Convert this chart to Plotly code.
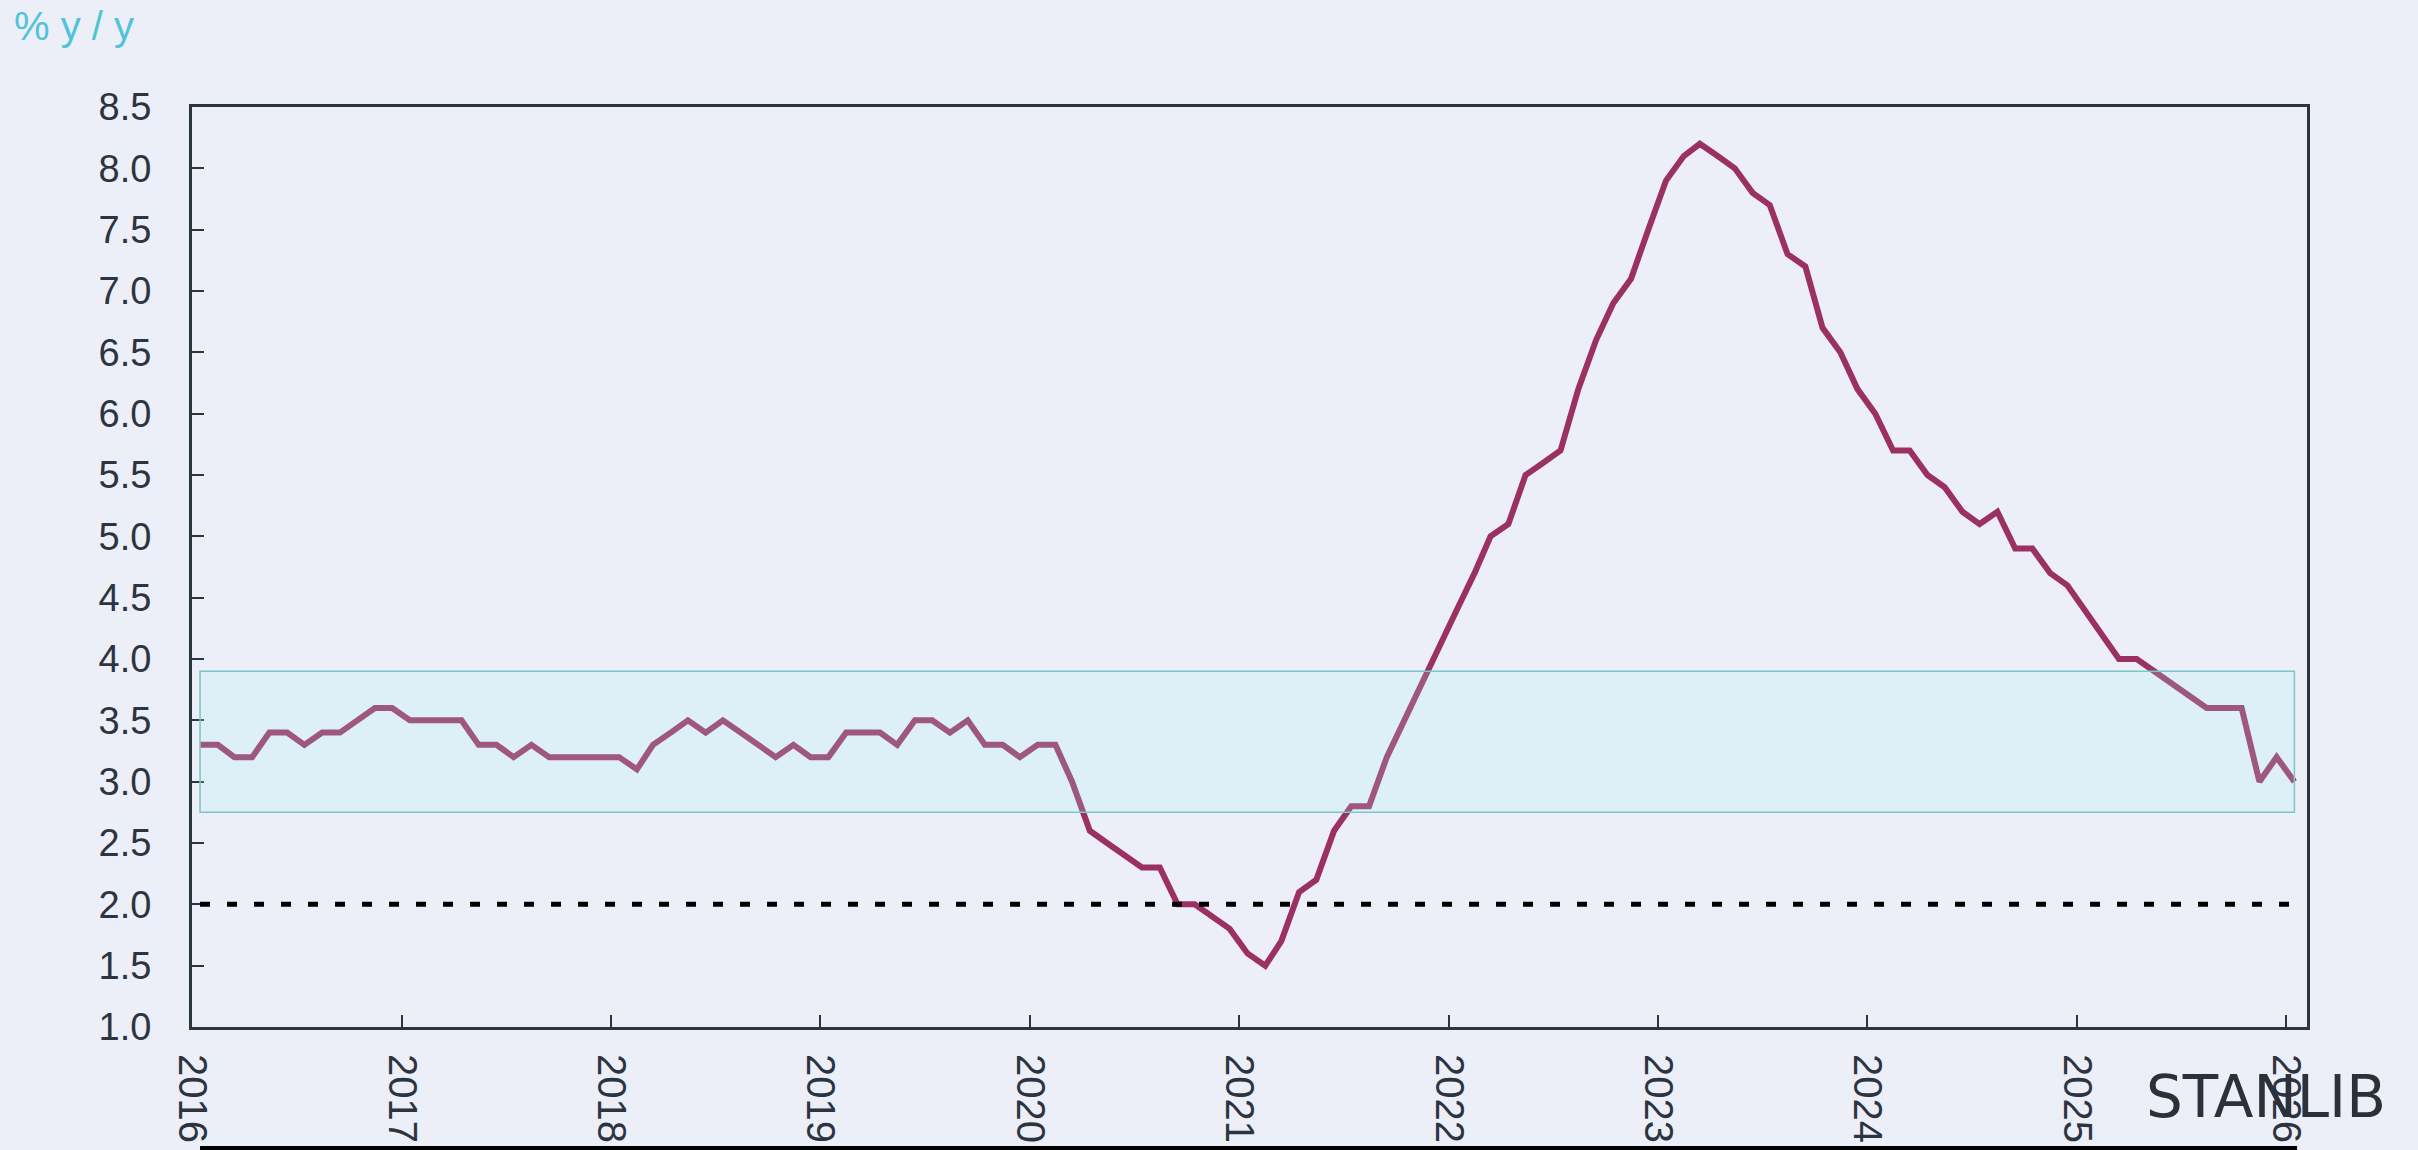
import pandas as pd
import plotly.graph_objects as go

# ---- data (monthly, % y/y), Jan 2016 .. Jan 2026 ----
values_2016 = [3.3, 3.3, 3.2, 3.2, 3.4, 3.4, 3.3, 3.4, 3.4, 3.5, 3.6, 3.6]
values_2017 = [3.5, 3.5, 3.5, 3.5, 3.3, 3.3, 3.2, 3.3, 3.2, 3.2, 3.2, 3.2]
values_2018 = [3.2, 3.1, 3.3, 3.4, 3.5, 3.4, 3.5, 3.4, 3.3, 3.2, 3.3, 3.2]
values_2019 = [3.2, 3.4, 3.4, 3.4, 3.3, 3.5, 3.5, 3.4, 3.5, 3.3, 3.3, 3.2]
values_2020 = [3.3, 3.3, 3.0, 2.6, 2.5, 2.4, 2.3, 2.3, 2.0, 2.0, 1.9, 1.8]
values_2021 = [1.6, 1.5, 1.7, 2.1, 2.2, 2.6, 2.8, 2.8, 3.2, 3.5, 3.8, 4.1]
values_2022 = [4.4, 4.7, 5.0, 5.1, 5.5, 5.6, 5.7, 6.2, 6.6, 6.9, 7.1, 7.5]
values_2023 = [7.9, 8.1, 8.2, 8.1, 8.0, 7.8, 7.7, 7.3, 7.2, 6.7, 6.5, 6.2]
values_2024 = [6.0, 5.7, 5.7, 5.5, 5.4, 5.2, 5.1, 5.2, 4.9, 4.9, 4.7, 4.6]
values_2025 = [4.4, 4.2, 4.0, 4.0, 3.9, 3.8, 3.7, 3.6, 3.6, 3.6, 3.0, 3.2]
values_2026 = [3.0]

values = (values_2016 + values_2017 + values_2018 + values_2019 + values_2020 +
          values_2021 + values_2022 + values_2023 + values_2024 + values_2025 +
          values_2026)

start_month = "2016-01-01"
dates = pd.date_range(start_month, periods=len(values), freq="MS") + pd.Timedelta(days=14)

target_level = 2.0
band_low = 2.75
band_high = 3.9

y_title = "% y / y"
brand = "STANLIB"

# ---- styles ----
BG = "#ECEFF8"
AX = "#2D3441"
LINE = "#9B3163"
FONT = "Liberation Sans, Arial, sans-serif"

fig = go.Figure()
fig.add_trace(go.Scatter(
    x=dates, y=values, mode="lines",
    line=dict(color=LINE, width=6),
    hoverinfo="skip", showlegend=False,
))

shapes = [
    dict(type="rect", xref="x", yref="y", x0=dates[0], x1=dates[-1],
         y0=band_low, y1=band_high, fillcolor="rgba(171,244,243,0.2)",
         line=dict(width=0), layer="above"),
    dict(type="rect", xref="x", yref="y", x0=dates[0], x1=dates[-1],
         y0=band_low, y1=band_high, fillcolor="rgba(0,0,0,0)",
         line=dict(color="#7CC6CA", width=1.5), layer="above"),
    dict(type="line", xref="x", yref="y", x0=dates[0], x1=dates[-1],
         y0=target_level, y1=target_level,
         line=dict(color="#000000", width=5, dash="10px,17px"), layer="above"),
    dict(type="rect", xref="paper", yref="paper", x0=0.0038, x1=0.9953,
         y0=-0.14, y1=-0.1293, fillcolor="#000000", line=dict(width=0),
         layer="above"),
]

annotations = [
    dict(text=y_title, xref="paper", yref="paper", x=-0.0850, y=1.088,
         xanchor="left", yanchor="middle", showarrow=False,
         font=dict(family=FONT, size=40, color="#4FC4D8")),
    dict(text=brand, xref="paper", yref="paper", x=0.9806, y=-0.0761,
         xanchor="center", yanchor="middle", showarrow=False,
         font=dict(family="DejaVu Sans, sans-serif", size=58, color="#2B303B")),
]

fig.update_layout(
    width=2418, height=1150,
    margin=dict(l=192, r=111, t=107, b=123, pad=0, autoexpand=False),
    paper_bgcolor=BG, plot_bgcolor=BG,
    showlegend=False,
    shapes=shapes, annotations=annotations,
    xaxis=dict(
        type="date", range=["2016-01-01", "2026-02-06"],
        tick0="2016-01-01", dtick="M12", tickformat="%Y", tickangle=90,
        ticks="inside", ticklen=12, tickwidth=2, tickcolor=AX,
        showline=True, linewidth=3, linecolor=AX, mirror=True,
        showgrid=False, zeroline=False, automargin=False,
        tickfont=dict(family=FONT, size=40, color=AX),
        ticklabelstandoff=16,
    ),
    yaxis=dict(
        range=[1.0, 8.5], tick0=1.0, dtick=0.5, tickformat=".1f",
        ticks="inside", ticklen=12, tickwidth=2, tickcolor=AX,
        showline=True, linewidth=3, linecolor=AX, mirror=True,
        showgrid=False, zeroline=False, automargin=False,
        tickfont=dict(family=FONT, size=38, color=AX),
        ticklabelstandoff=30,
    ),
)

fig.write_html(
    "out.html",
    config={"displayModeBar": False},
    post_script="document.body.style.margin='0';document.body.style.padding='0';"
                "document.body.style.overflow='hidden';"
                "document.body.style.background='" + BG + "';",
)
